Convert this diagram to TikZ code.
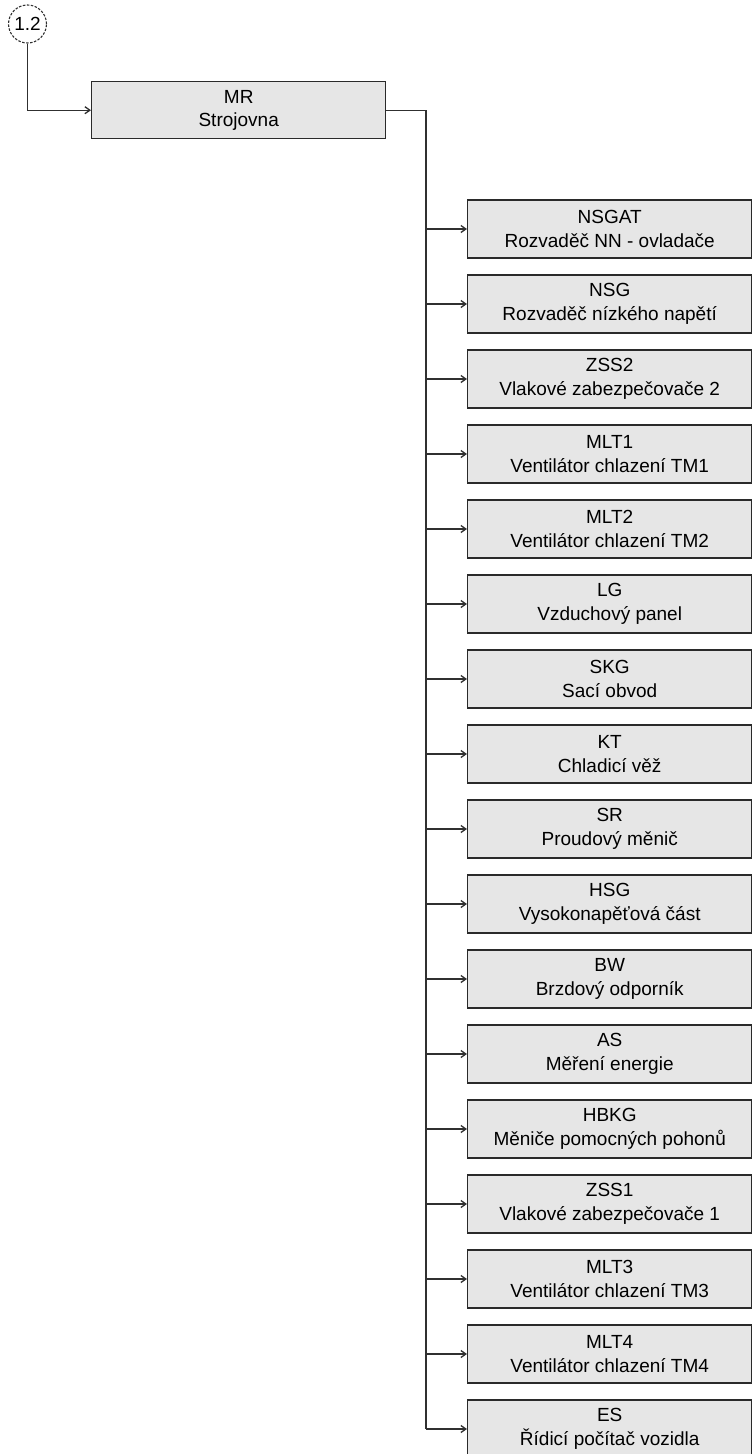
\documentclass[tikz,border=0pt]{standalone}
\usepackage{fontspec}
\setmainfont{Liberation Sans}
\usetikzlibrary{arrows.meta}
\definecolor{boxfill}{HTML}{E6E6E6}
\definecolor{boxline}{HTML}{2A2A2A}
\definecolor{wire}{HTML}{303030}
\tikzset{
  unitbox/.style={draw=boxline, line width=1.4pt, fill=boxfill, inner sep=0pt,
    align=center, text=black, font=\fontsize{19}{23.5}\selectfont},
  wireline/.style={draw=wire, line width=1.3pt},
  wirearrow/.style={wireline, -{Straight Barb[length=5pt,width=7pt,line width=1.3pt]}},
  refcircle/.style={circle, draw=wire, line width=1.1pt, dash pattern=on 2.5pt off 1.5pt,
    minimum size=38pt, inner sep=0pt, font=\fontsize{19}{23.5}\selectfont}
}
\begin{document}
\begin{tikzpicture}[x=1pt,y=-1pt]
\useasboundingbox (0,0) rectangle (753,1454);
\node[refcircle] (ref) at (27.5,24) {1.2};
\node[unitbox, minimum width=294pt, minimum height=57pt, anchor=north west] (mr) at (91,81) {MR\\Strojovna};
\draw[wirearrow] (ref.south) |- (mr.west);
\coordinate (bx) at (426,110);
\foreach \code/\desc [count=\i] in {
  NSGAT/Rozvaděč NN - ovladače,
  NSG/Rozvaděč nízkého napětí,
  ZSS2/Vlakové zabezpečovače 2,
  MLT1/Ventilátor chlazení TM1,
  MLT2/Ventilátor chlazení TM2,
  LG/Vzduchový panel,
  SKG/Sací obvod,
  KT/Chladicí věž,
  SR/Proudový měnič,
  HSG/Vysokonapěťová část,
  BW/Brzdový odporník,
  AS/Měření energie,
  HBKG/Měniče pomocných pohonů,
  ZSS1/Vlakové zabezpečovače 1,
  MLT3/Ventilátor chlazení TM3,
  MLT4/Ventilátor chlazení TM4,
  ES/Řídicí počítač vozidla}{
  \node[unitbox, minimum width=284pt, minimum height=58pt, anchor=west] (n\i) at (467,{229+75*(\i-1)}) {\code\\\desc};
  \draw[wirearrow] (bx |- n\i.west) -- (n\i.west);
}
\draw[wireline] (mr.east) -| (bx |- n17.west);
\end{tikzpicture}
\end{document}
